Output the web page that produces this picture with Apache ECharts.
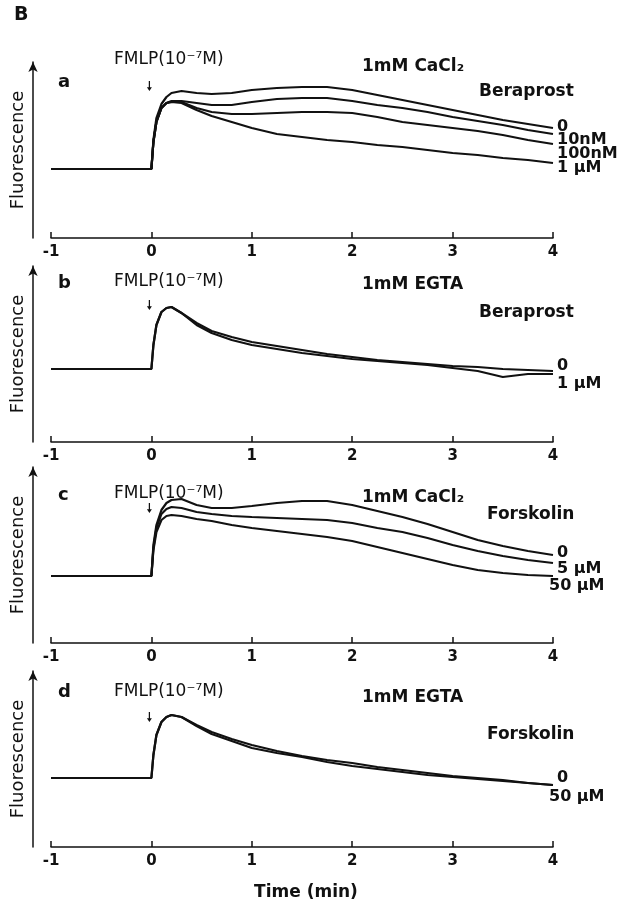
<!DOCTYPE html>
<html>
<head>
<meta charset="utf-8">
<script src="https://cdn.jsdelivr.net/npm/echarts@6/dist/echarts.min.js"></script>
<style>
html, body { margin: 0; padding: 0; background: #fff; }
#main { width: 633px; height: 909px; }
</style>
</head>
<body>
<div id="main"></div>
<script>
// time axis (min), FMLP added at t = 0
var time = [-1, -0.5, 0, 0.02, 0.05, 0.1, 0.15, 0.2, 0.3, 0.45, 0.6, 0.8, 1.0,
            1.25, 1.5, 1.75, 2.0, 2.25, 2.5, 2.75, 3.0, 3.25, 3.5, 3.75, 4.0];
var xTicks = [-1, 0, 1, 2, 3, 4];

// a: 1mM CaCl2, Beraprost
var aBera0 =    [69,69,69,98,120,134,141,145,147,145,144,145,148,150,151,151,148,143,138,133,128,123,118,114,110];
var aBera10n =  [69,69,69,96,116,130,135,137,137,135,133,133,136,139,140,140,137,133,130,126,121,117,113,108,104];
var aBera100n = [69,69,69,96,116,130,135,136,136,130,126,124,124,125,126,126,125,121,116,113,110,107,103,98,94];
var aBera1u =   [69,69,69,96,116,130,135,136,135,128,122,116,110,104,101,98,96,93,91,88,85,83,80,78,75];

// b: 1mM EGTA, Beraprost
var bBera0 =  [73,73,73,97,117,130,134,135,129,119,111,105,100,96,92,88,85,82,80,78,76,75,73,72,71];
var bBera1u = [73,73,73,97,117,130,134,135,129,117,109,102,97,93,89,86,83,81,79,77,74,71,65,68,68];

// c: 1mM CaCl2, Forskolin
var cForsk0 =   [67,67,67,98,118,133,140,143,144,138,135,135,137,140,142,142,138,132,126,119,111,103,97,92,88];
var cForsk5u =  [67,67,67,95,115,129,134,136,135,131,129,127,126,125,124,123,120,115,111,105,98,92,87,83,80];
var cForsk50u = [67,67,67,93,111,123,127,128,127,124,122,118,115,112,109,106,102,96,90,84,78,73,70,68,67];

// d: 1mM EGTA, Forskolin
var dForsk0 =   [69,69,69,92,112,125,130,132,130,122,115,108,102,96,91,87,84,80,77,74,71,69,67,64,62];
var dForsk50u = [69,69,69,92,112,125,130,132,130,121,113,106,99,94,90,85,81,78,75,72,70,68,66,64,62];

// where the FMLP arrow sits on each panel
var fmlpMark = [152, 137, 135, 130];

var panels = [
  {axis: 238, letter: 'a', medium: '1mM CaCl\u2082', drug: 'Beraprost', series: [aBera0, aBera10n, aBera100n, aBera1u],
   labels: [['0', 127], ['10nM', 140], ['100nM', 154], ['1 \u00b5M', 168]]},
  {axis: 442, letter: 'b', medium: '1mM EGTA', drug: 'Beraprost', series: [bBera0, bBera1u],
   labels: [['0', 366], ['1 \u00b5M', 384]]},
  {axis: 643, letter: 'c', medium: '1mM CaCl\u2082', drug: 'Forskolin', series: [cForsk0, cForsk5u, cForsk50u],
   labels: [['0', 553], ['5 \u00b5M', 569], ['50 \u00b5M', 586]]},
  {axis: 847, letter: 'd', medium: '1mM EGTA', drug: 'Forskolin', series: [dForsk0, dForsk50u],
   labels: [['0', 778], ['50 \u00b5M', 797]]}
];

var FONT = '"DejaVu Sans", sans-serif';

function txt(x, y, s, size, weight, align) {
  return {
    type: 'text', x: x, y: y, silent: true,
    style: {
      text: s, fill: '#111', textAlign: align || 'left', textVerticalAlign: 'middle',
      font: (weight || 'bold') + ' ' + size + 'px ' + FONT
    }
  };
}

var grids = [], xAxes = [], yAxes = [], series = [];
var graphics = [txt(14, 15, 'B', 19), txt(306, 893, 'Time (min)', 17, 'bold', 'center')];

for (var p = 0; p < panels.length; p++) {
  var P = panels[p];
  grids.push({left: 51, right: 80, top: P.axis - 176, height: 176});
  xAxes.push({
    type: 'value', gridIndex: p, min: -1, max: 4, interval: 1,
    axisLine: {onZero: false, lineStyle: {color: '#111', width: 1.5}},
    axisTick: {inside: true, length: 6, lineStyle: {color: '#111', width: 1.5}},
    axisLabel: {color: '#111', fontSize: 15, fontWeight: 'bold', fontFamily: FONT, margin: 7,
                customValues: xTicks},
    splitLine: {show: false}
  });
  yAxes.push({
    type: 'value', gridIndex: p, min: 0, max: 176, offset: 18,
    name: 'Fluorescence', nameLocation: 'middle', nameGap: 6,
    nameTextStyle: {color: '#111', fontSize: 18, fontFamily: FONT},
    axisLine: {show: true, onZero: false, symbol: ['none', 'arrow'], symbolSize: [7, 10],
               lineStyle: {color: '#111', width: 1.5}},
    axisTick: {show: false}, axisLabel: {show: false}, splitLine: {show: false}
  });
  for (var s = 0; s < P.series.length; s++) {
    var arr = P.series[s];
    var item = {
      type: 'line', xAxisIndex: p, yAxisIndex: p, symbol: 'none', animation: false,
      lineStyle: {color: '#111', width: 2.2},
      data: time.map(function (t, i) { return [t, arr[i]]; })
    };
    if (s === 0) {
      item.markPoint = {
        silent: true, symbol: 'path://M3,0 L5,0 L5,8 L8,8 L4,13 L0,8 L3,8 Z', symbolSize: [5, 10],
        itemStyle: {color: '#111'}, label: {show: false},
        data: [{coord: [-0.02, fmlpMark[p]]}]
      };
    }
    series.push(item);
  }
  graphics.push(txt(58, [82, 283, 495, 692][p], P.letter, 18));
  graphics.push(txt(114, [60, 282, 494, 692][p], 'FMLP(10\u207b\u2077M)', 17, 'normal'));
  graphics.push(txt(362, [67, 285, 498, 698][p], P.medium, 17));
  graphics.push(txt(p < 2 ? 479 : 487, [92, 313, 515, 735][p], P.drug, 17));
  for (var k = 0; k < P.labels.length; k++) {
    var lab = P.labels[k][0];
    graphics.push(txt(lab.indexOf('50') === 0 ? 549 : 557, P.labels[k][1], lab, 16));
  }
}

var myChart = echarts.init(document.getElementById('main'));
myChart.setOption({
  backgroundColor: '#fff',
  animation: false,
  grid: grids,
  xAxis: xAxes,
  yAxis: yAxes,
  series: series,
  graphic: graphics
});
</script>
</body>
</html>
